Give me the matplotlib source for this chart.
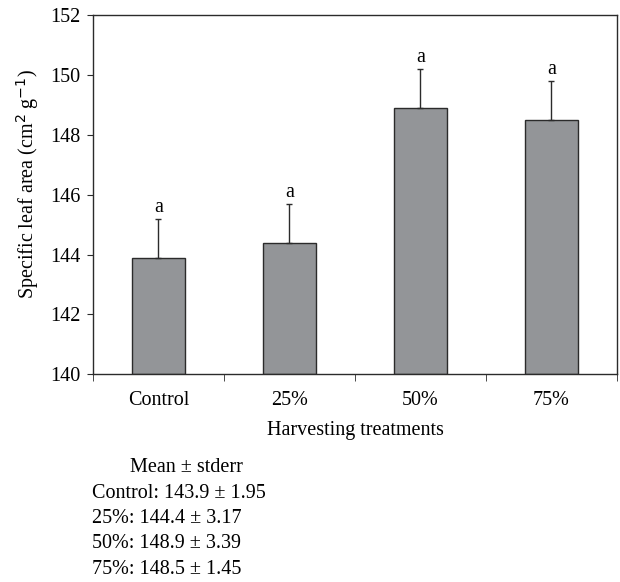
import matplotlib.pyplot as plt
import numpy as np

plt.rcParams['font.family'] = ['Liberation Serif', 'DejaVu Serif']

treatments = ["Control", "25%", "50%", "75%"]
means = [143.9, 144.4, 148.9, 148.5]
stderr = [1.95, 3.17, 3.39, 1.45]
# upper whiskers as plotted
bar_err = [1.3, 1.3, 1.3, 1.3]
letters = ["a", "a", "a", "a"]

fs = 14.5

fig = plt.figure(figsize=(6.2, 5.82), dpi=100)
ax = fig.add_axes([0.15, 0.357, 0.845, 0.617])

x = np.arange(len(treatments))
ax.bar(x, np.array(means) - 140, bottom=140, width=0.4, color="#939598",
       edgecolor="#2b2b2b", linewidth=1.0, zorder=2)
ax.errorbar(x, means, yerr=[np.zeros(len(means)), bar_err], fmt="none",
            ecolor="#2b2b2b", elinewidth=1.0, capsize=2, capthick=1.0, zorder=3)
for xi, m, e, lab in zip(x, means, bar_err, letters):
    ax.text(xi, m + e + 0.06, lab, ha="center", va="bottom", fontsize=fs)

ax.set_xlim(-0.5, 3.5)
ax.set_ylim(140, 152)
ax.set_yticks(np.arange(140, 153, 2))
ax.set_xticks(x)
ax.set_xticklabels(treatments)
ax.set_xticks(np.arange(-0.5, 4.0, 1.0), minor=True)
ax.tick_params(axis="x", which="major", length=0, pad=12, labelsize=fs)
ax.tick_params(axis="x", which="minor", length=5, direction="out", color="#2b2b2b")
ax.tick_params(axis="y", length=4, direction="out", labelsize=fs, pad=5, color="#2b2b2b")
for s in ax.spines.values():
    s.set_color("#2b2b2b")
    s.set_linewidth(1.0)

ax.set_xlabel("Harvesting treatments", fontsize=fs, labelpad=8)
ax.set_ylabel("Specific leaf area (cm$^2$ g$^{-1}$)", fontsize=fs)
ax.yaxis.set_label_coords(-0.1, 0.53)

# summary below the chart
fig.text(186 / 620, 1 - 467 / 582, "Mean \u00b1 stderr", ha="center", va="center", fontsize=fs)
for i, (t, m, s) in enumerate(zip(treatments, means, stderr)):
    fig.text(92 / 620, 1 - (493 + 25.5 * i) / 582, f"{t}: {m} \u00b1 {s}",
             ha="left", va="center", fontsize=fs)

fig.savefig("out.png", dpi=100)
